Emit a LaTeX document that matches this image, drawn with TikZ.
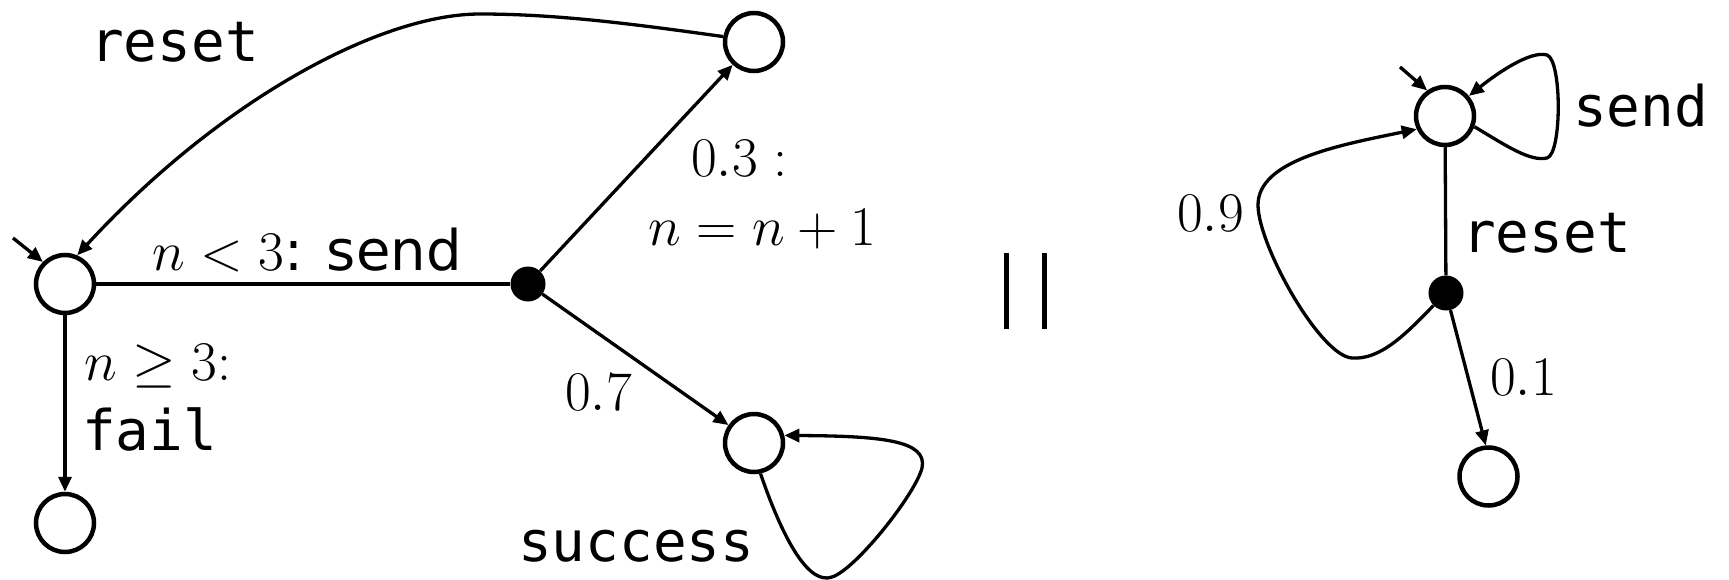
\RequirePackage{fix-cm}
\documentclass[tikz,border=0pt]{standalone}
\usepackage{fontspec}
\newfontfamily\monof{DejaVu Sans Mono}
\newfontfamily\sansf{DejaVu Sans}
\usetikzlibrary{arrows.meta}
\tikzset{
  state/.style={circle, draw, line width=4.5pt, minimum size=58pt, inner sep=0pt},
  dotnode/.style={circle, fill, inner sep=0pt, minimum size=35pt},
  edge/.style={line width=3.3pt},
  arr/.style={edge, -{Triangle[length=15pt,width=13pt]}},
  lbl/.style={inner sep=0pt, font=\fontsize{56}{62}\selectfont},
  mono/.style={inner sep=0pt, font=\fontsize{56}{62}\selectfont\monof},
  bar/.style={line width=5pt},
}
\begin{document}
\begin{tikzpicture}[x=1pt,y=-1pt]
\useasboundingbox (0,0) rectangle (1729,580);
% left automaton
\node[state] (A) at (65,284) {};
\node[state] (F) at (65,523) {};
\node[dotnode] (D1) at (528,284) {};
\node[state] (T) at (754,42) {};
\node[state] (S) at (754,443) {};
\coordinate (iA) at (13,238);
% right automaton
\node[state] (R0) at (1445,116) {};
\node[dotnode] (D2) at (1446,293) {};
\node[state] (R1) at (1488.5,476.5) {};
\coordinate (iR) at (1400,67);

% left connectors
\draw[arr] (iA) -- (A.135);
\draw[edge] (A) -- (D1);
\draw[arr] (A) -- (F);
\draw[arr] (D1) -- (T);
\draw[arr] (D1) -- (S);
\draw[arr] (T.170) .. controls (640,25) and (560,14) .. (480,14)
                   .. controls (380,14) and (220,100) .. (A.67);
\draw[arr] (S.-78) .. controls (785,545) and (810,585) .. (832,577)
                   .. controls (855,570) and (915,495) .. (922,468)
                   .. controls (928,440) and (880,436) .. (S.14);

% right connectors
\draw[arr] (iR) -- (R0.125);
\draw[edge] (R0) -- (D2);
\draw[arr] (D2) -- (R1.95);
\draw[arr] (R0.-20) .. controls (1505,145) and (1530,162) .. (1547,158)
                    .. controls (1562,154) and (1562,60) .. (1547,55)
                    .. controls (1530,50) and (1495,75) .. (R0.40);
\draw[arr] (D2.225) .. controls (1405,335) and (1380,360) .. (1352,358)
                    .. controls (1320,356) and (1258,245) .. (1258,205)
                    .. controls (1258,160) and (1340,145) .. (R0.205);

% parallel composition bars
\draw[bar] (1006.5,253) -- (1006.5,329);
\draw[bar] (1044,253) -- (1044,329);

% labels
\node[mono, anchor=base west] (lreset) at (90,62) {reset};
\node[lbl, anchor=base west] (lsend) at (152,270) {$n<3$\sansf: send};
\node[lbl, anchor=base west] (lge) at (84,380) {$n\geq 3{:}$};
\node[mono, anchor=base west] (lfail) at (82,450) {fail};
\node[lbl, anchor=base west] (l03) at (691,177) {$0.3:$};
\node[lbl, anchor=base west] (linc) at (648,245) {$n=n+1$};
\node[lbl, anchor=base west] (l07) at (565,410) {$0.7$};
\node[mono, anchor=base west] (lsucc) at (518,561) {success};
\node[mono, anchor=base west] (lsend2) at (1573,127) {send};
\node[mono, anchor=base west] (lreset2) at (1462,252) {reset};
\node[lbl, anchor=base east] (l09) at (1244,232) {$0.9$};
\node[lbl, anchor=base west] (l01) at (1490,395) {$0.1$};
\end{tikzpicture}
\end{document}
